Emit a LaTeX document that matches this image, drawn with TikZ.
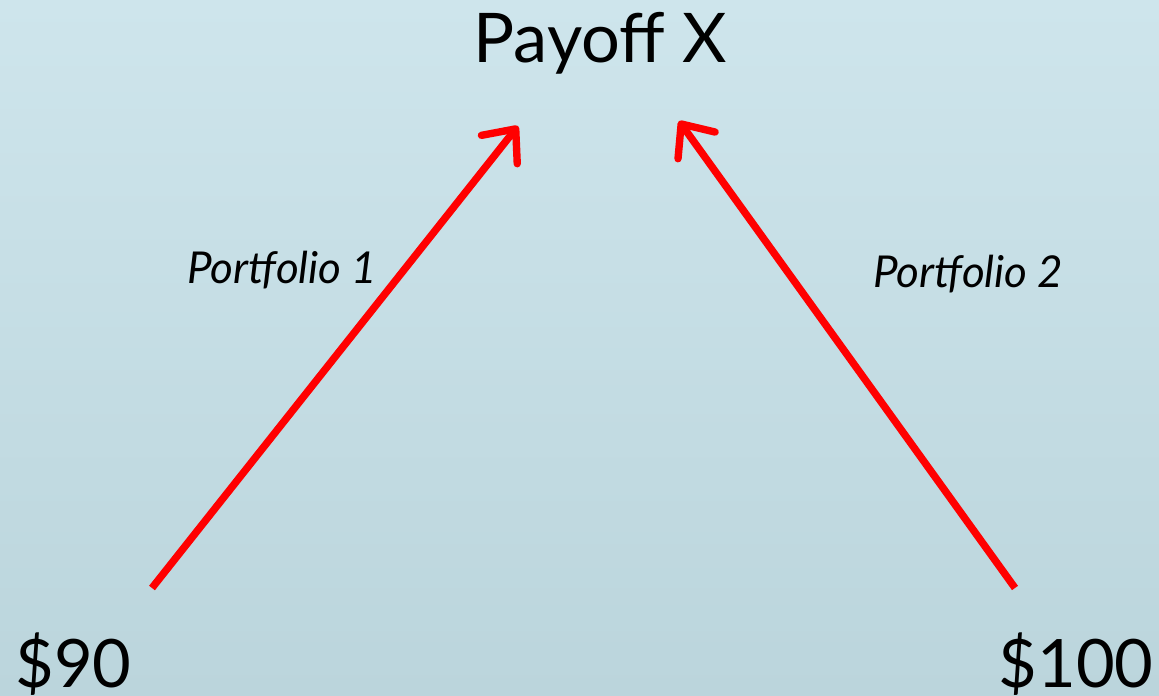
\documentclass[tikz,border=0pt]{standalone}
\usepackage{fontspec}
\setmainfont{Lato}
\usetikzlibrary{arrows.meta}

\definecolor{bgtop}{RGB}{206,229,236}
\definecolor{bgbottom}{RGB}{187,213,220}

\tikzset{
	price/.style = {font = \fontsize{38}{38}\selectfont, inner sep = 0pt},
	title/.style = {font = \fontsize{39}{39}\selectfont, inner sep = 0pt},
	portfolio/.style = {font = \fontsize{25}{25}\selectfont\itshape, inner sep = 0pt},
	payarrow/.style = {draw = red, line width = 4.2pt,
					   -{Straight Barb[length = 15pt, width = 26pt, round]}}
}

\begin{document}
\begin{tikzpicture}
	\shade[top color = bgtop, bottom color = bgbottom] (0,0) rectangle (23.18,13.92);
	\useasboundingbox (0,0) rectangle (23.18,13.92);

	\draw (12.01, 12.66) node[title,
					 anchor = base](X) {Payoff X};
	\draw (0.3, 0.16) node[price,
					 anchor = base west](P90) {\$90};
	\draw (23.08, 0.16) node[price,
					 anchor = base east](P100) {\$100};

	\draw (3.74, 8.24) node[portfolio,
					 anchor = base west](L1) {Portfolio 1};
	\draw (17.46, 8.16) node[portfolio,
					 anchor = base west](L2) {Portfolio 2};

	\coordinate (S1) at (3.04, 2.16);
	\coordinate (T1) at (10.36, 11.40);
	\coordinate (S2) at (20.30, 2.16);
	\coordinate (T2) at (13.58, 11.50);

	\draw[payarrow] (S1) -- (T1);
	\draw[payarrow] (S2) -- (T2);
\end{tikzpicture}
\end{document}
